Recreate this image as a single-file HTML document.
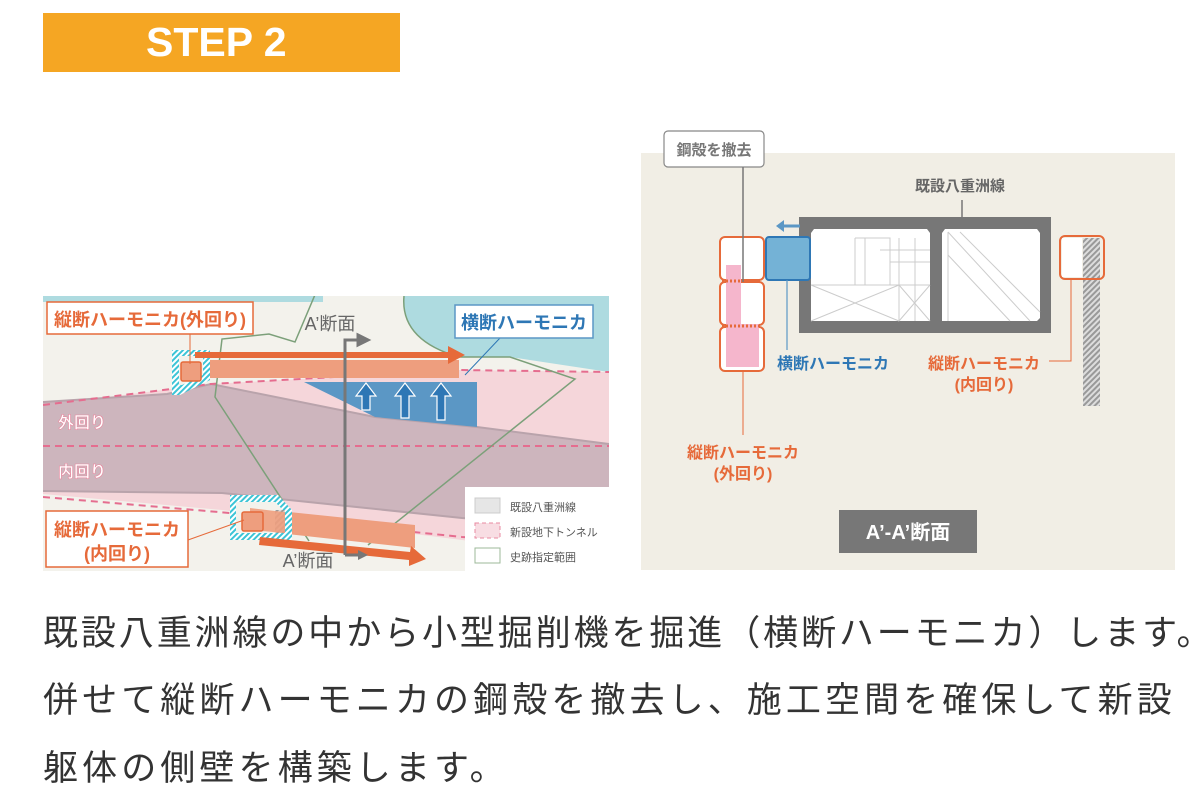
<!DOCTYPE html>
<html><head><meta charset="utf-8"><style>
body{margin:0;width:1200px;height:800px;background:#fff;overflow:hidden;font-family:"Liberation Sans","Noto Sans CJK JP",sans-serif;}
.t{position:absolute;left:43px;font-size:35px;color:#333;letter-spacing:4.1px;white-space:nowrap;font-family:"Liberation Sans","Noto Sans CJK JP",sans-serif;}
</style></head><body>
<div style="position:absolute;left:43px;top:13px;width:357px;height:59px;background:#f5a623;color:#fff;font-weight:bold;font-size:41px;line-height:59px;"><span style="position:absolute;left:103px;">STEP 2</span></div>
<svg width="1200" height="800" style="position:absolute;left:0;top:0" font-family="Liberation Sans, Noto Sans CJK JP, sans-serif">
<defs>
<pattern id="hc" width="4" height="4" patternUnits="userSpaceOnUse" patternTransform="rotate(45)"><rect width="4" height="4" fill="#fff"/><rect width="2" height="4" fill="#3cc4d6"/></pattern>
<pattern id="hg" width="4" height="4" patternUnits="userSpaceOnUse" patternTransform="rotate(45)"><rect width="4" height="4" fill="#ddd"/><rect width="2" height="4" fill="#999"/></pattern>
<clipPath id="c1"><rect x="43" y="296" width="566" height="275"/></clipPath>
</defs>
<g clip-path="url(#c1)">
<rect x="43" y="296" width="566" height="275" fill="#f3f2ec"/>
<rect x="43" y="296" width="280" height="6" fill="#aedbe0"/>
<path d="M404,296 Q400,340 459,357 L510,357 L609,372 L609,296Z" fill="#aedbe0"/>
<path d="M404,296 Q400,340 459,357" fill="none" stroke="#7ca07a" stroke-width="1.5"/>
<path d="M43,405 L211,384 L459,370 L609,372 L609,560 L462,540 L222,510 L43,494Z" fill="#f5d6da"/>
<path d="M43,402 L167,394 L211,384 L375,417 L477,427 L609,444 L609,530 L462,518 L222,493 L43,491Z" fill="#cdb5bd"/>
<path d="M43,402 L167,394 L211,384 L375,417 L477,427 L609,444" fill="none" stroke="#b9a3ab" stroke-width="2"/>
<path d="M43,491 L222,493 L462,518 L609,530" fill="none" stroke="#b9a3ab" stroke-width="2"/>
<path d="M43,405 L211,384 L459,370 L609,372" fill="none" stroke="#e56d8f" stroke-width="2" stroke-dasharray="7,5"/>
<path d="M43,446 L609,446" fill="none" stroke="#e56d8f" stroke-width="2" stroke-dasharray="7,5"/>
<path d="M43,497 L230,513 L462,537 L609,545" fill="none" stroke="#e56d8f" stroke-width="2" stroke-dasharray="7,5"/>
<path d="M304,382 L477,382 L477,427 L375,417 Z" fill="#5b97c5"/>
<g fill="#2e77b5" stroke="#fff" stroke-width="1.2">
<path d="M362,410 L362,396 L356,396 L366,383 L376,396 L370,396 L370,410Z"/>
<path d="M401,418 L401,396 L395,396 L405,383 L415,396 L409,396 L409,418Z"/>
<path d="M437,420 L437,396 L431,396 L441,383 L451,396 L445,396 L445,420Z"/>
</g>
<path d="M317,290 L295,342 L269,334 L222,339 L215,397 L309,541 M368,545 L575,379 L510,357 L459,357" fill="none" stroke="#7ca07a" stroke-width="1.5"/>
<rect x="207" y="360" width="252" height="18" fill="#ee9e7e"/>
<path d="M172,350 L210,350 L210,380 L180,395 L172,395Z" fill="url(#hc)"/>
<path d="M179,356 L203,356 L203,375 L182,385 L179,385Z" fill="#f3f2ec"/>
<rect x="181" y="362" width="20" height="19" rx="2" fill="#ee9e7e" stroke="#e66a3a" stroke-width="1.5"/>
<path d="M195,352 L448,352 L448,346 L465,355 L448,364 L448,358 L195,358Z" fill="#e66a3a"/>
<path d="M250,508 L415,525 L415,548 L250,530Z" fill="#ee9e7e"/>
<path d="M230,495 L278,495 L292,510 L292,540 L230,540Z" fill="url(#hc)"/>
<path d="M236,502 L275,502 L285,512 L285,533 L236,533Z" fill="#f3f2ec"/>
<rect x="275" y="510" width="10" height="23" fill="url(#hg)"/>
<path d="M250,508 L275,511 L285,512 L285,533 L250,530Z" fill="#ee9e7e" opacity="0.9"/>
<rect x="242" y="512" width="21" height="19" rx="2" fill="#ee9e7e" stroke="#e66a3a" stroke-width="1.5"/>
<path d="M260,537 L410,552 L411,546 L426,559 L409,566 L409,560 L259,545Z" fill="#e66a3a"/>
<path d="M345,555 L345,340 L360,340" fill="none" stroke="#777" stroke-width="3"/>
<path d="M358,335 L368,340 L358,345Z M345,555 L360,555" fill="#777" stroke="#777" stroke-width="3"/>
<path d="M358,550 L368,555 L358,560Z" fill="#777"/>
<line x1="190" y1="334" x2="190" y2="364" stroke="#e66a3a" stroke-width="1"/>
<line x1="188" y1="540" x2="244" y2="520" stroke="#e66a3a" stroke-width="1"/>
<line x1="500" y1="338" x2="465" y2="375" stroke="#2e77b5" stroke-width="1"/>
<rect x="47" y="302" width="206" height="32" fill="#fff" stroke="#e66a3a" stroke-width="1.5"/>
<text x="150" y="326" font-size="18" font-weight="bold" fill="#e66a3a" text-anchor="middle" textLength="192">縦断ハーモニカ(外回り)</text>
<rect x="455" y="305" width="138" height="33" fill="#fff" stroke="#5b97c5" stroke-width="1.5"/>
<text x="524" y="329" font-size="18" font-weight="bold" fill="#2e77b5" text-anchor="middle">横断ハーモニカ</text>
<text x="330" y="330" font-size="18" fill="#666" text-anchor="middle">A’断面</text>
<text x="308" y="567" font-size="18" fill="#666" text-anchor="middle">A’断面</text>
<text x="58" y="428" font-size="16" font-weight="bold" fill="#fff" stroke="#e88aa0" stroke-width="0.6">外回り</text>
<text x="58" y="477" font-size="16" font-weight="bold" fill="#fff" stroke="#e88aa0" stroke-width="0.6">内回り</text>
<rect x="46" y="511" width="142" height="56" fill="#fff" stroke="#e66a3a" stroke-width="1.5"/>
<text x="117" y="536" font-size="18" font-weight="bold" fill="#e66a3a" text-anchor="middle">縦断ハーモニカ</text>
<text x="117" y="560" font-size="18" font-weight="bold" fill="#e66a3a" text-anchor="middle">(内回り)</text>
<rect x="465" y="487" width="144" height="84" fill="#fff"/>
<rect x="475" y="498" width="25" height="15" fill="#e6e6e6" stroke="#ccc"/>
<rect x="475" y="523" width="25" height="15" fill="#f8dde3" stroke="#e88aa0" stroke-dasharray="4,3"/>
<rect x="475" y="548" width="25" height="15" fill="#fff" stroke="#9cb89a"/>
<text x="510" y="511" font-size="11" fill="#555">既設八重洲線</text>
<text x="510" y="536" font-size="11" fill="#555">新設地下トンネル</text>
<text x="510" y="561" font-size="11" fill="#555">史跡指定範囲</text>
</g>
<rect x="641" y="153" width="534" height="417" fill="#f1eee5"/>
<rect x="664" y="131" width="100" height="36" rx="4" fill="#fff" stroke="#888" stroke-width="1.2"/>
<text x="714" y="155" font-size="15" font-weight="bold" fill="#777" text-anchor="middle">鋼殻を撤去</text>
<text x="960" y="191" font-size="15" font-weight="bold" fill="#666" text-anchor="middle">既設八重洲線</text>
<line x1="962" y1="200" x2="962" y2="217" stroke="#777" stroke-width="1.5"/>
<rect x="799" y="217" width="252" height="116" fill="#777"/>
<path d="M814,229 L927,229 L930,233 L930,321 L811,321 L811,233Z" fill="#fff"/>
<path d="M945,229 L1037,229 L1040,233 L1040,318 L1037,321 L942,321 L942,233Z" fill="#fff"/>
<g stroke="#ccc" stroke-width="1" fill="none">
<path d="M855,238 L855,285 M811,285 L930,285 M855,238 L890,238 L890,285 M865,238 L865,285 M880,250 L930,250 M890,262 L930,262 M899,238 L899,321 M915,238 L915,321 M811,321 L899,285 M811,285 L899,321 M899,285 L930,321 M930,285 L899,321"/>
<path d="M948,232 L948,321 M948,232 L1030,321 M960,232 L1040,312 M948,255 L1010,321"/>
</g>
<path d="M778,226 L800,226" stroke="#5b97c5" stroke-width="3"/>
<path d="M784,220 L776,226 L784,232Z" fill="#5b97c5"/>
<rect x="766" y="237" width="44" height="43" rx="3" fill="#74b2d6" stroke="#2e77b5" stroke-width="2"/>
<rect x="720" y="237" width="44" height="43" rx="5" fill="#fff" stroke="#e66a3a" stroke-width="2"/>
<rect x="720" y="282" width="44" height="43" rx="5" fill="#fff" stroke="#e66a3a" stroke-width="2"/>
<rect x="720" y="327" width="44" height="44" rx="5" fill="#fff" stroke="#e66a3a" stroke-width="2"/>
<rect x="726" y="265" width="15" height="102" fill="#f5b6cc"/>
<rect x="726" y="324" width="33" height="43" fill="#f5b6cc"/>
<line x1="722" y1="281" x2="762" y2="281" stroke="#e66a3a" stroke-width="3" stroke-dasharray="2,2"/>
<line x1="722" y1="326" x2="762" y2="326" stroke="#e66a3a" stroke-width="3" stroke-dasharray="2,2"/>
<line x1="743" y1="167" x2="743" y2="282" stroke="#777" stroke-width="1.5"/>
<line x1="743" y1="371" x2="743" y2="435" stroke="#e66a3a" stroke-width="1"/>
<line x1="787" y1="280" x2="787" y2="350" stroke="#5b97c5" stroke-width="1.2"/>
<text x="743" y="458" font-size="16" font-weight="bold" fill="#e66a3a" text-anchor="middle">縦断ハーモニカ</text>
<text x="743" y="479" font-size="16" font-weight="bold" fill="#e66a3a" text-anchor="middle">(外回り)</text>
<text x="833" y="369" font-size="16" font-weight="bold" fill="#2e77b5" text-anchor="middle">横断ハーモニカ</text>
<rect x="1083" y="238" width="17" height="168" fill="url(#hg)"/>
<rect x="1060" y="236" width="44" height="43" rx="5" fill="none" stroke="#e66a3a" stroke-width="2"/>
<rect x="1062" y="238" width="20" height="39" fill="#fff"/>
<path d="M1071,279 L1071,361 L1049,361" fill="none" stroke="#e66a3a" stroke-width="1"/>
<text x="984" y="369" font-size="16" font-weight="bold" fill="#e66a3a" text-anchor="middle">縦断ハーモニカ</text>
<text x="984" y="390" font-size="16" font-weight="bold" fill="#e66a3a" text-anchor="middle">(内回り)</text>
<rect x="839" y="510" width="138" height="43" fill="#777"/>
<text x="908" y="539" font-size="20" font-weight="bold" fill="#fff" text-anchor="middle">A’-A’断面</text>
</svg>
<div class="t" style="top:605px;letter-spacing:2.9px">既設八重洲線の中から小型掘削機を掘進（横断ハーモニカ）します。</div>
<div class="t" style="top:672px">併せて縦断ハーモニカの鋼殻を撤去し、施工空間を確保して新設</div>
<div class="t" style="top:740px">躯体の側壁を構築します。</div>
</body></html>
